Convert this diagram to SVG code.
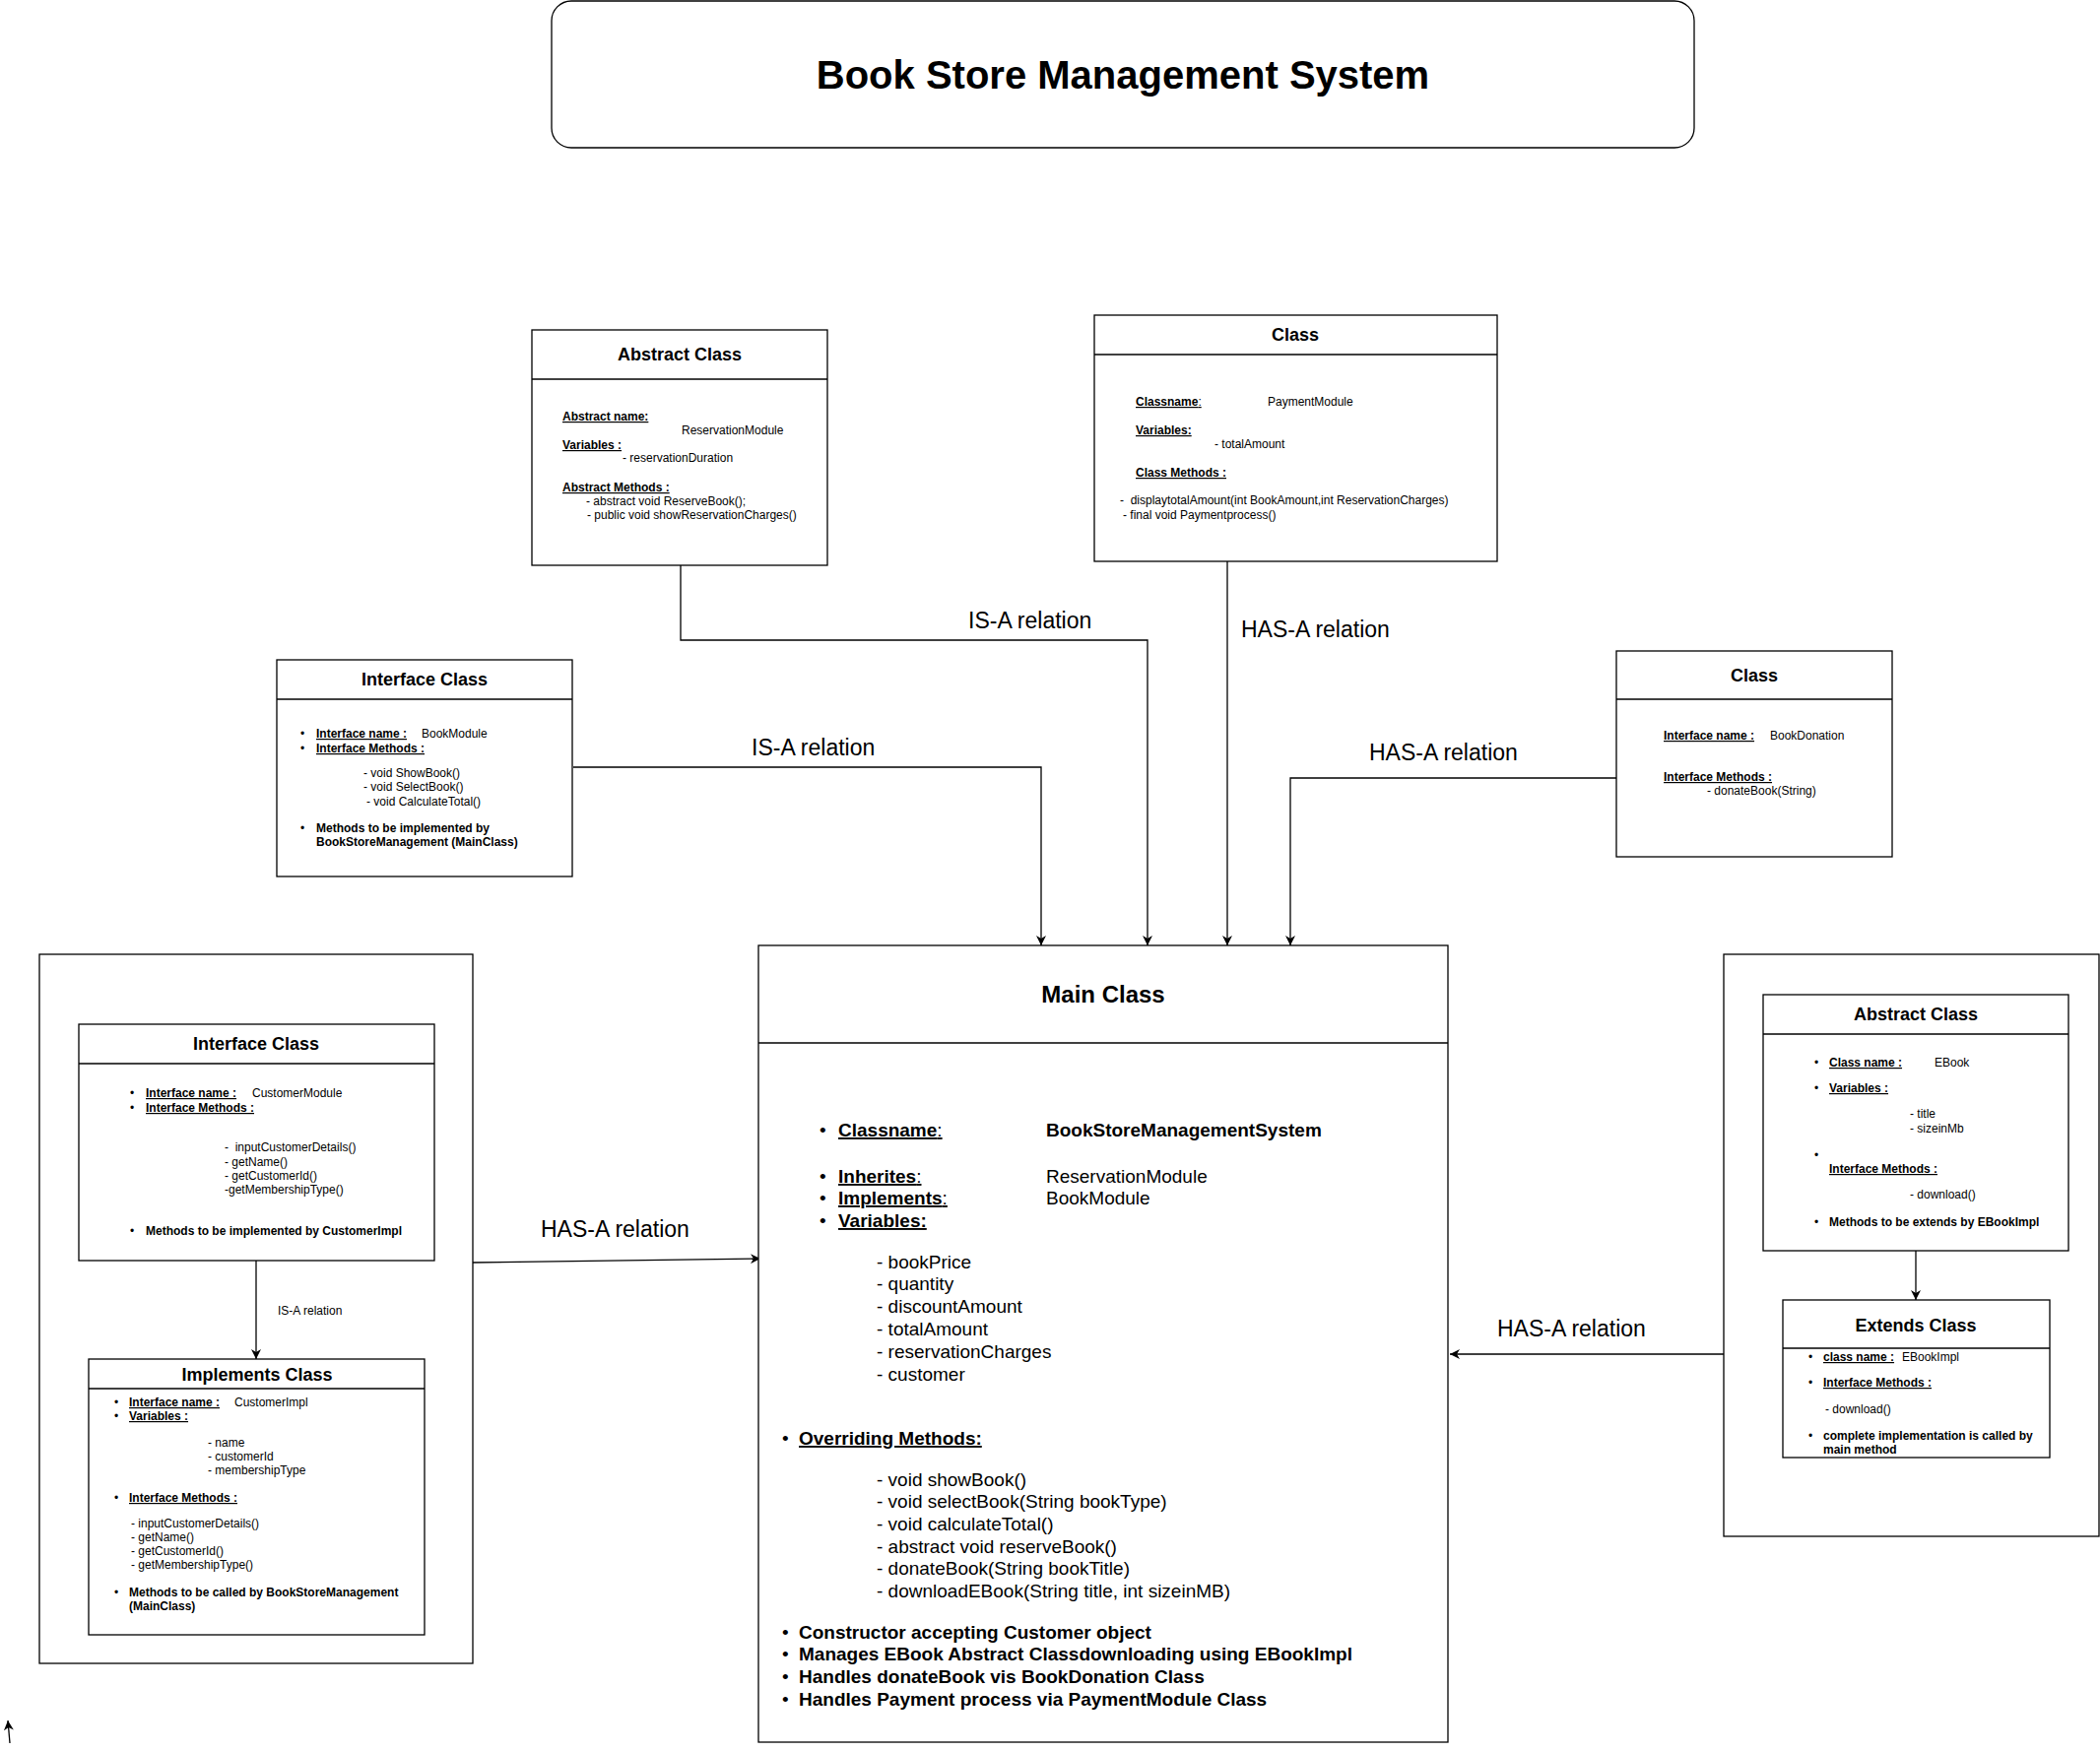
<svg xmlns="http://www.w3.org/2000/svg" width="2132" height="1779" viewBox="0 0 2132 1779">
<style>
.box{fill:#fff;stroke:#000;stroke-width:1.3}
.ln{fill:none;stroke:#000;stroke-width:1.3}
text{font-family:"Liberation Sans",Arial,sans-serif;fill:#000}
.t{font-size:18px;font-weight:bold;text-anchor:middle}
.s{font-size:12px}
.sb{font-size:12px;font-weight:bold}
.u{font-weight:bold;text-decoration:underline}
.rel{font-size:23px}
.m{font-size:19px}
.mb{font-size:19px;font-weight:bold}
</style>
<defs>
<marker id="arr" markerUnits="userSpaceOnUse" markerWidth="12" markerHeight="10" refX="10" refY="5" orient="auto"><path d="M0,0 L10,5 L0,10 L3,5 z" fill="#000"/></marker>
</defs>
<rect x="0" y="0" width="2132" height="1779" fill="#fff"/>

<g id="title">
<rect class="box" x="560" y="1" width="1160" height="149" rx="20" ry="20"/>
<text x="1140" y="90" text-anchor="middle" font-size="40" font-weight="bold">Book Store Management System</text>
</g>

<g id="containers">
<rect class="box" x="40" y="969" width="440" height="720"/>
<rect class="box" x="1750" y="969" width="381" height="591"/>
</g>

<g id="connectors">
<path class="ln" d="M691,574 V650 H1165 V960" marker-end="url(#arr)"/>
<path class="ln" d="M1246,570 V960" marker-end="url(#arr)"/>
<path class="ln" d="M582,779 H1057 V960" marker-end="url(#arr)"/>
<path class="ln" d="M1641,790 H1310 V960" marker-end="url(#arr)"/>
<path class="ln" d="M480,1282 L772,1278" marker-end="url(#arr)"/>
<path class="ln" d="M1750,1375 H1472" marker-end="url(#arr)"/>
<path class="ln" d="M260,1280 V1380" marker-end="url(#arr)"/>
<path class="ln" d="M1945,1270 V1320" marker-end="url(#arr)"/>
<path class="ln" d="M10,1770 L8,1747" marker-end="url(#arr)"/>
<text class="rel" x="983" y="638">IS-A relation</text>
<text class="rel" x="1260" y="647">HAS-A relation</text>
<text class="rel" x="763" y="767">IS-A relation</text>
<text class="rel" x="1390" y="772">HAS-A relation</text>
<text class="rel" x="549" y="1256">HAS-A relation</text>
<text class="rel" x="1520" y="1357">HAS-A relation</text>
<text class="s" x="282" y="1335">IS-A relation</text>
</g>

<g id="reservation-module">
<rect class="box" x="540" y="335" width="300" height="239"/>
<line class="ln" x1="540" y1="385" x2="840" y2="385"/>
<text class="t" x="690" y="366">Abstract Class</text>
<text class="s" x="571" y="427"><tspan class="u">Abstract name:</tspan></text>
<text class="s" x="692" y="441">ReservationModule</text>
<text class="s" x="571" y="456"><tspan class="u">Variables :</tspan></text>
<text class="s" x="632" y="469">- reservationDuration</text>
<text class="s" x="571" y="499"><tspan class="u">Abstract Methods :</tspan></text>
<text class="s" x="595" y="513">- abstract void ReserveBook();</text>
<text class="s" x="596" y="527">- public void showReservationCharges()</text>
</g>

<g id="payment-module">
<rect class="box" x="1111" y="320" width="409" height="250"/>
<line class="ln" x1="1111" y1="360" x2="1520" y2="360"/>
<text class="t" x="1315" y="346">Class</text>
<text class="s" x="1153" y="412"><tspan class="u">Classname</tspan><tspan text-decoration="underline">:</tspan></text>
<text class="s" x="1287" y="412">PaymentModule</text>
<text class="s" x="1153" y="441"><tspan class="u">Variables:</tspan></text>
<text class="s" x="1233" y="455">- totalAmount</text>
<text class="s" x="1153" y="484"><tspan class="u">Class Methods :</tspan></text>
<text class="s" x="1137" y="512" xml:space="preserve">-  displaytotalAmount(int BookAmount,int ReservationCharges)</text>
<text class="s" x="1140" y="527">- final void Paymentprocess()</text>
</g>

<g id="book-module">
<rect class="box" x="281" y="670" width="300" height="220"/>
<line class="ln" x1="281" y1="710" x2="581" y2="710"/>
<text class="t" x="431" y="696">Interface Class</text>
<text class="s" x="305" y="749">•</text>
<text class="s" x="321" y="749"><tspan class="u">Interface name :</tspan></text>
<text class="s" x="428" y="749">BookModule</text>
<text class="s" x="305" y="764">•</text>
<text class="s" x="321" y="764"><tspan class="u">Interface Methods :</tspan></text>
<text class="s" x="369" y="789">- void ShowBook()</text>
<text class="s" x="369" y="803">- void SelectBook()</text>
<text class="s" x="372" y="818">- void CalculateTotal()</text>
<text class="s" x="305" y="845">•</text>
<text class="sb" x="321" y="845">Methods to be implemented by</text>
<text class="sb" x="321" y="859">BookStoreManagement (MainClass)</text>
</g>

<g id="book-donation">
<rect class="box" x="1641" y="661" width="280" height="209"/>
<line class="ln" x1="1641" y1="710" x2="1921" y2="710"/>
<text class="t" x="1781" y="692">Class</text>
<text class="s" x="1689" y="751"><tspan class="u">Interface name :</tspan></text>
<text class="s" x="1797" y="751">BookDonation</text>
<text class="s" x="1689" y="793"><tspan class="u">Interface Methods :</tspan></text>
<text class="s" x="1733" y="807">- donateBook(String)</text>
</g>

<g id="customer-module">
<rect class="box" x="80" y="1040" width="361" height="240"/>
<line class="ln" x1="80" y1="1080" x2="441" y2="1080"/>
<text class="t" x="260" y="1066">Interface Class</text>
<text class="s" x="132" y="1114">•</text>
<text class="s" x="148" y="1114"><tspan class="u">Interface name :</tspan></text>
<text class="s" x="256" y="1114">CustomerModule</text>
<text class="s" x="132" y="1129">•</text>
<text class="s" x="148" y="1129"><tspan class="u">Interface Methods :</tspan></text>
<text class="s" x="228" y="1169" xml:space="preserve">-  inputCustomerDetails()</text>
<text class="s" x="228" y="1184">- getName()</text>
<text class="s" x="228" y="1198">- getCustomerId()</text>
<text class="s" x="228" y="1212">-getMembershipType()</text>
<text class="s" x="132" y="1254">•</text>
<text class="sb" x="148" y="1254">Methods to be implemented by CustomerImpl</text>
</g>

<g id="customer-impl">
<rect class="box" x="90" y="1380" width="341" height="280"/>
<line class="ln" x1="90" y1="1410" x2="431" y2="1410"/>
<text class="t" x="261" y="1402">Implements Class</text>
<text class="s" x="116" y="1428">•</text>
<text class="s" x="131" y="1428"><tspan class="u">Interface name :</tspan></text>
<text class="s" x="238" y="1428">CustomerImpl</text>
<text class="s" x="116" y="1442">•</text>
<text class="s" x="131" y="1442"><tspan class="u">Variables :</tspan></text>
<text class="s" x="211" y="1469">- name</text>
<text class="s" x="211" y="1483">- customerId</text>
<text class="s" x="211" y="1497">- membershipType</text>
<text class="s" x="116" y="1525">•</text>
<text class="s" x="131" y="1525"><tspan class="u">Interface Methods :</tspan></text>
<text class="s" x="133" y="1551">- inputCustomerDetails()</text>
<text class="s" x="133" y="1565">- getName()</text>
<text class="s" x="133" y="1579">- getCustomerId()</text>
<text class="s" x="133" y="1593">- getMembershipType()</text>
<text class="s" x="116" y="1621">•</text>
<text class="sb" x="131" y="1621">Methods to be called by BookStoreManagement</text>
<text class="sb" x="131" y="1635">(MainClass)</text>
</g>

<g id="ebook">
<rect class="box" x="1790" y="1010" width="310" height="260"/>
<line class="ln" x1="1790" y1="1050" x2="2100" y2="1050"/>
<text class="t" x="1945" y="1036">Abstract Class</text>
<text class="s" x="1842" y="1083">•</text>
<text class="s" x="1857" y="1083"><tspan class="u">Class name :</tspan></text>
<text class="s" x="1964" y="1083">EBook</text>
<text class="s" x="1842" y="1109">•</text>
<text class="s" x="1857" y="1109"><tspan class="u">Variables :</tspan></text>
<text class="s" x="1939" y="1135">- title</text>
<text class="s" x="1939" y="1150">- sizeinMb</text>
<text class="s" x="1842" y="1177">•</text>
<text class="s" x="1857" y="1191"><tspan class="u">Interface Methods :</tspan></text>
<text class="s" x="1939" y="1217">- download()</text>
<text class="s" x="1842" y="1245">•</text>
<text class="sb" x="1857" y="1245">Methods to be extends by EBookImpl</text>
</g>

<g id="ebook-impl">
<rect class="box" x="1810" y="1320" width="271" height="160"/>
<line class="ln" x1="1810" y1="1369" x2="2081" y2="1369"/>
<text class="t" x="1945" y="1352">Extends Class</text>
<text class="s" x="1836" y="1382">•</text>
<text class="s" x="1851" y="1382"><tspan class="u">class name :</tspan></text>
<text class="s" x="1931" y="1382">EBookImpl</text>
<text class="s" x="1836" y="1408">•</text>
<text class="s" x="1851" y="1408"><tspan class="u">Interface Methods :</tspan></text>
<text class="s" x="1853" y="1435">- download()</text>
<text class="s" x="1836" y="1462">•</text>
<text class="sb" x="1851" y="1462">complete implementation is called by</text>
<text class="sb" x="1851" y="1476">main method</text>
</g>

<g id="main-class">
<rect class="box" x="770" y="960" width="700" height="809"/>
<line class="ln" x1="770" y1="1059" x2="1470" y2="1059"/>
<text x="1120" y="1018" text-anchor="middle" font-size="24" font-weight="bold">Main Class</text>
<text class="m" x="832" y="1154">•</text>
<text class="m" x="851" y="1154"><tspan class="u">Classname</tspan><tspan text-decoration="underline">:</tspan></text>
<text class="mb" x="1062" y="1154">BookStoreManagementSystem</text>
<text class="m" x="832" y="1201">•</text>
<text class="m" x="851" y="1201"><tspan class="u">Inherites</tspan><tspan text-decoration="underline">:</tspan></text>
<text class="m" x="1062" y="1201">ReservationModule</text>
<text class="m" x="832" y="1223">•</text>
<text class="m" x="851" y="1223"><tspan class="u">Implements</tspan><tspan text-decoration="underline">:</tspan></text>
<text class="m" x="1062" y="1223">BookModule</text>
<text class="m" x="832" y="1246">•</text>
<text class="m" x="851" y="1246"><tspan class="u">Variables:</tspan></text>
<text class="m" x="890" y="1288">- bookPrice</text>
<text class="m" x="890" y="1310">- quantity</text>
<text class="m" x="890" y="1333">- discountAmount</text>
<text class="m" x="890" y="1356">- totalAmount</text>
<text class="m" x="890" y="1379">- reservationCharges</text>
<text class="m" x="890" y="1402">- customer</text>
<text class="m" x="794" y="1467">•</text>
<text class="m" x="811" y="1467"><tspan class="u">Overriding Methods:</tspan></text>
<text class="m" x="890" y="1509">- void showBook()</text>
<text class="m" x="890" y="1531">- void selectBook(String bookType)</text>
<text class="m" x="890" y="1554">- void calculateTotal()</text>
<text class="m" x="890" y="1577">- abstract void reserveBook()</text>
<text class="m" x="890" y="1599">- donateBook(String bookTitle)</text>
<text class="m" x="890" y="1622">- downloadEBook(String title, int sizeinMB)</text>
<text class="m" x="794" y="1664">•</text>
<text class="mb" x="811" y="1664">Constructor accepting Customer object</text>
<text class="m" x="794" y="1686">•</text>
<text class="mb" x="811" y="1686">Manages EBook Abstract Classdownloading using EBookImpl</text>
<text class="m" x="794" y="1709">•</text>
<text class="mb" x="811" y="1709">Handles donateBook vis BookDonation Class</text>
<text class="m" x="794" y="1732">•</text>
<text class="mb" x="811" y="1732">Handles Payment process via PaymentModule Class</text>
</g>
</svg>
